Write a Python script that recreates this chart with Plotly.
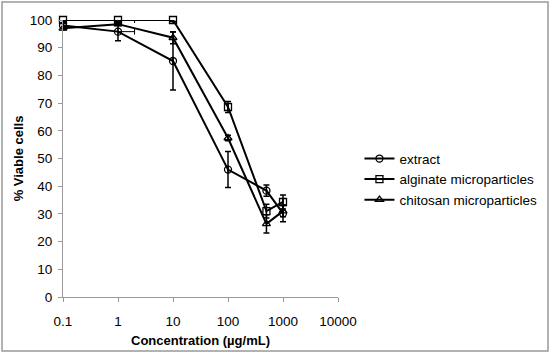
import plotly.graph_objects as go

conc = [0.1, 1, 10, 100, 500, 1000]

extract = [98, 95.8, 85.2, 46, 38.4, 30.2]
extract_err = [1, 3.3, 10.5, 6.5, 2, 3]
extract_xerr = [0, 1, 0, 0, 0, 0]

alginate = [100, 100, 100, 68.6, 31, 34.3]
alginate_err = [0.5, 0.5, 0.5, 2, 2.5, 2.5]
alginate_xerr = [0, 1, 0, 0, 0, 0]

chitosan = [97, 98.5, 93.6, 57.4, 26.4, 31]
chitosan_err = [0.5, 0.5, 2.2, 1, 3.3, 2]

names = ["extract", "alginate microparticles", "chitosan microparticles"]
symbols = ["circle-open", "square-open", "triangle-up-open"]

FONT = "Liberation Sans"

fig = go.Figure()

series = [
    (extract, extract_err, extract_xerr),
    (alginate, alginate_err, alginate_xerr),
    (chitosan, chitosan_err, None),
]

for (vals, err, xerr), name, sym in zip(series, names, symbols):
    kw = {}
    if xerr is not None:
        kw["error_x"] = dict(type="data", array=xerr, arrayminus=[0] * len(xerr),
                             color="black", thickness=1, width=3)
    fig.add_trace(go.Scatter(
        x=conc, y=vals, name=name, mode="lines+markers",
        line=dict(color="black", width=2),
        marker=dict(symbol=sym, size=7, color="black", line=dict(width=1.3, color="black")),
        error_y=dict(type="data", array=err, color="black", thickness=1.5, width=3),
        cliponaxis=False,
        **kw,
    ))

fig.update_layout(
    width=550, height=354,
    margin=dict(l=63, r=212, t=20, b=57, autoexpand=False),
    paper_bgcolor="white", plot_bgcolor="white",
    font=dict(family=FONT, size=13, color="black"),
    showlegend=True,
    legend=dict(x=1.078, y=0.555, xanchor="left", yanchor="top",
                font=dict(family=FONT, size=13.5, color="black"),
                bgcolor="rgba(0,0,0,0)", itemwidth=30, tracegroupgap=0),
    xaxis=dict(type="log", range=[-1, 4], tickvals=[0.1, 1, 10, 100, 1000, 10000],
               ticktext=["0.1", "1", "10", "100", "1000", "10000"],
               showgrid=False, zeroline=False, showline=True, linecolor="#999999",
               linewidth=1, ticks="outside", ticklen=4, tickcolor="#999999",
               automargin=False, ticklabelstandoff=8,
               tickfont=dict(size=13.5),
               title=dict(text="<b>Concentration (µg/mL)</b>", standoff=7,
                          font=dict(family=FONT, size=13))),
    yaxis=dict(range=[0, 100], tickvals=list(range(0, 101, 10)),
               showgrid=False, zeroline=False, showline=True, linecolor="#999999",
               linewidth=1, ticks="outside", ticklen=4, tickcolor="#999999",
               automargin=False, ticklabelstandoff=3,
               tickfont=dict(size=13.5),
               title=dict(text="<b>% Viable cells</b>", standoff=3,
                          font=dict(family=FONT, size=13))),
)

fig.add_shape(type="rect", xref="paper", yref="paper",
              x0=(2 - 63) / 275, x1=(548 - 63) / 275,
              y0=(297 - 351) / 277, y1=(297 - 2) / 277,
              line=dict(color="#999999", width=1.5), layer="below")

fig.write_html("out.html", config={"displayModeBar": False},
               post_script="document.body.style.margin='0';")
